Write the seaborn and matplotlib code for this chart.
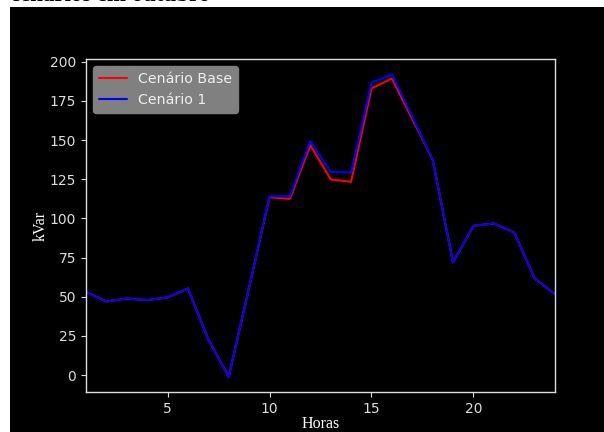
import matplotlib
matplotlib.use("Agg")
import matplotlib.pyplot as plt
import seaborn as sns
import pandas as pd
from matplotlib.patches import Rectangle

horas = list(range(1, 25))
cenario_base = [53.0, 47.0, 48.9, 47.9, 49.6, 55.3, 22.8, -1.1, 56.0, 113.5,
                112.5, 146.8, 124.9, 123.4, 183.0, 189.3, 163.5, 137.6,
                71.9, 95.3, 96.8, 91.1, 61.7, 51.7]
cenario_1 = [53.0, 47.0, 48.9, 47.9, 49.6, 55.3, 22.8, -1.1, 56.0, 114.0,
             114.2, 149.5, 129.8, 129.3, 186.5, 192.1, 165.0, 137.6,
             71.9, 95.3, 96.8, 91.1, 61.7, 51.7]
series = ["Cenário Base", "Cenário 1"]
cores = ["red", "blue"]

df = pd.DataFrame({
    "Horas": horas * 2,
    "kVar": cenario_base + cenario_1,
    "Cenário": [series[0]] * len(horas) + [series[1]] * len(horas),
})

sns.set_theme(style="dark")
plt.rcParams["font.family"] = ["DejaVu Sans"]

fig = plt.figure(figsize=(6.04, 4.32), dpi=100, facecolor="white")
fig.patches.append(Rectangle((10 / 604, 0), 1 - 10 / 604, 425 / 432,
                             transform=fig.transFigure, facecolor="black",
                             edgecolor="none", zorder=-10))
fig.text(10 / 604, 1 - 1 / 432, "cenários em outubro", family="Liberation Serif",
         fontweight="bold", fontsize=16.5, color="black", va="baseline", ha="left")

ax = fig.add_axes([86 / 604, 40 / 432, 469 / 604, 333 / 432])
ax.set_facecolor("black")

sns.lineplot(data=df, x="Horas", y="kVar", hue="Cenário", hue_order=series,
             palette=cores, linewidth=1.5, sort=False, ax=ax)

ax.set_xlim(1, 24)
ax.set_xticks([5, 10, 15, 20])
ax.set_yticks([0, 25, 50, 75, 100, 125, 150, 175, 200])
ax.set_xlabel("Horas", family="Liberation Serif", fontsize=11.5, color="white",
              labelpad=0)
ax.set_ylabel("kVar", family="Liberation Serif", fontsize=11.5, color="white",
              labelpad=1)
ax.tick_params(colors="#dddddd", labelsize=10, length=3.5, width=0.8,
               bottom=True, left=True)
for s in ax.spines.values():
    s.set_visible(True)
    s.set_color("#dddddd")
    s.set_linewidth(1)
ax.grid(False)

leg = ax.legend(loc="upper left", facecolor="gray", edgecolor="gray",
                framealpha=1.0, labelcolor="#eeeeee", fontsize=10.2)

fig.savefig("out.png", dpi=100, facecolor=fig.get_facecolor())
